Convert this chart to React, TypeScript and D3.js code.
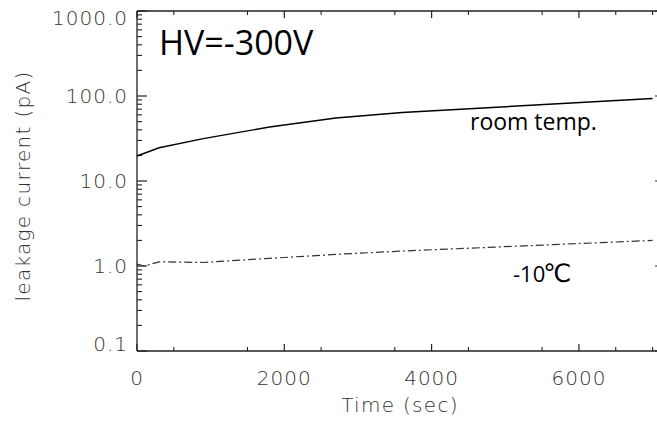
import React from 'react';
import * as d3 from 'd3';

// time in seconds
const roomTime = [0, 300, 900, 1800, 2700, 3600, 7000];
const roomCurrent = [19.7, 24.6, 31.5, 43.2, 55.0, 64.0, 93.6];

const coldTime = [0, 100, 300, 900, 1800, 2700, 3600, 7000];
const coldCurrent = [1.05, 1.0, 1.12, 1.1, 1.23, 1.37, 1.5, 2.0];

const yMajor = [0.1, 1, 10, 100, 1000];
const yLabels = ['0.1', '1.0', '10.0', '100.0', '1000.0'];
const xMajor = [0, 2000, 4000, 6000];
const xLabels = ['0', '2000', '4000', '6000'];

const W = 657;
const H = 421;
const left = 137, right = 657, top = 11, bottom = 351;

const tickFont = "'DejaVu Sans', sans-serif";
const textFont = "'Open Sans', sans-serif";

export default function App() {
  const x = d3.scaleLinear().domain([0, 7060]).range([left, right]);
  const y = d3.scaleLog().domain([0.1, 1000]).range([bottom, top]);

  const line = d3
    .line<[number, number]>()
    .x((d) => x(d[0]))
    .y((d) => y(d[1]));

  const roomPts = roomTime.map((t, i) => [t, roomCurrent[i]] as [number, number]);
  const coldPts = coldTime.map((t, i) => [t, coldCurrent[i]] as [number, number]);

  // minor ticks
  const yMinor: number[] = [];
  for (let dec = 0.1; dec < 1000; dec *= 10) {
    for (let k = 2; k <= 9; k++) yMinor.push(dec * k);
  }
  const xMinor = d3.range(500, 7060, 1000);

  const axisColor = '#222';

  return (
    <svg
      width={W}
      height={H}
      style={{ position: 'absolute', left: 0, top: 0, background: '#fff' }}
    >
      {/* frame */}
      <line x1={left} x2={left} y1={top} y2={bottom} stroke={axisColor} strokeWidth={1.3} />
      <line x1={left} x2={right} y1={bottom} y2={bottom} stroke={axisColor} strokeWidth={1.3} />
      <line x1={left} x2={right} y1={top} y2={top} stroke={axisColor} strokeWidth={1.3} />

      {/* y ticks */}
      {yMajor.map((v) => (
        <g key={'ym' + v}>
          <line x1={left} x2={left + 10} y1={y(v)} y2={y(v)} stroke={axisColor} strokeWidth={1.2} />
          <line x1={right} x2={right - 2} y1={y(v)} y2={y(v)} stroke={axisColor} strokeWidth={1.2} />
        </g>
      ))}
      {yMinor.map((v) => (
        <line key={'yn' + v} x1={left} x2={left + 5} y1={y(v)} y2={y(v)} stroke={axisColor} strokeWidth={1.1} />
      ))}
      {yMajor.map((v, i) => (
        <text
          key={'yl' + v}
          x={128}
          y={Math.min(Math.max(y(v), 18), 344)}
          dy="0.36em"
          textAnchor="end"
          fontFamily={tickFont}
          fontWeight={200}
          fontSize={20}
          letterSpacing={1}
          fill="#333"
        >
          {yLabels[i]}
        </text>
      ))}

      {/* x ticks */}
      {xMajor.map((v) => (
        <g key={'xm' + v}>
          <line x1={x(v)} x2={x(v)} y1={bottom} y2={bottom - 7} stroke={axisColor} strokeWidth={1.2} />
          <line x1={x(v)} x2={x(v)} y1={top} y2={top + 7} stroke={axisColor} strokeWidth={1.2} />
        </g>
      ))}
      {xMinor.concat([7000]).map((v) => (
        <g key={'xn' + v}>
          <line x1={x(v)} x2={x(v)} y1={bottom} y2={bottom - 4} stroke={axisColor} strokeWidth={1.1} />
          <line x1={x(v)} x2={x(v)} y1={top} y2={top + 4} stroke={axisColor} strokeWidth={1.1} />
        </g>
      ))}
      {xMajor.map((v, i) => (
        <text
          key={'xl' + v}
          x={x(v)}
          y={385}
          textAnchor="middle"
          fontFamily={tickFont}
          fontWeight={200}
          fontSize={20}
          letterSpacing={1}
          fill="#333"
        >
          {xLabels[i]}
        </text>
      ))}

      {/* axis titles */}
      <text
        x={400}
        y={412}
        textAnchor="middle"
        fontFamily={tickFont}
        fontWeight={200}
        fontSize={20}
        letterSpacing={1.3}
        fill="#333"
      >
        Time (sec)
      </text>
      <text
        transform="translate(30,186) rotate(-90)"
        textAnchor="middle"
        fontFamily={tickFont}
        fontWeight={200}
        fontSize={20}
        letterSpacing={1.3}
        fill="#333"
      >
        leakage current (pA)
      </text>

      {/* data */}
      <path d={line(roomPts) || ''} fill="none" stroke="#000" strokeWidth={1.4} />
      <path
        d={line(coldPts) || ''}
        fill="none"
        stroke="#333"
        strokeWidth={1.2}
        strokeDasharray="8,3,2,3"
      />

      {/* annotations */}
      <text x={159} y={55} fontFamily={textFont} fontSize={34} fill="#000">
        HV=-300V
      </text>
      <text x={470} y={130} fontFamily={textFont} fontSize={23} fill="#000">
        room temp.
      </text>
      <text x={513} y={282} fontFamily="'Open Sans', 'DejaVu Sans', sans-serif" fontSize={22} fill="#000">
        -10<tspan fontSize={25} dx={-2}>℃</tspan>
      </text>
    </svg>
  );
}
